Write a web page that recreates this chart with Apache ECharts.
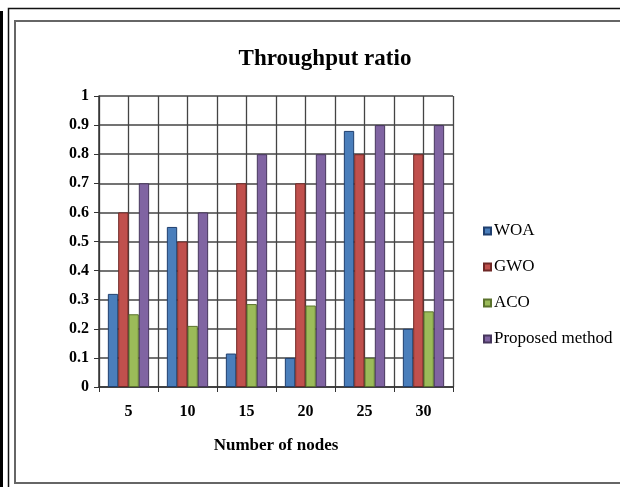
<!DOCTYPE html>
<html>
<head>
<meta charset="utf-8">
<script src="https://cdn.jsdelivr.net/npm/echarts@6/dist/echarts.min.js"></script>
<style>
html,body{margin:0;padding:0;background:#fff;}
#chart{width:620px;height:487px;}
</style>
</head>
<body>
<div id="chart"></div>
<script>
var categories = ['5', '10', '15', '20', '25', '30'];
var woa = [0.32, 0.55, 0.115, 0.10, 0.88, 0.20];
var gwo = [0.60, 0.50, 0.70, 0.70, 0.80, 0.80];
var aco = [0.25, 0.21, 0.285, 0.28, 0.10, 0.26];
var proposed = [0.70, 0.60, 0.80, 0.80, 0.90, 0.90];
var seriesNames = ['WOA', 'GWO', 'ACO', 'Proposed method'];
var halfCats = ['', '', '', '', '', '', '', '', '', '', '', ''];

var fills = ['#4A7EBB', '#C0504D', '#9BBB59', '#8064A2'];
var borders = ['#1F3F6E', '#6E2826', '#5A722C', '#46365C'];
var serif = 'Liberation Serif';

function mk(i, data) {
  return {
    name: seriesNames[i], type: 'bar', data: data, xAxisIndex: 0,
    barGap: '0%', barCategoryGap: '30%',
    itemStyle: { color: fills[i], borderColor: borders[i], borderWidth: 1 }
  };
}

var chart = echarts.init(document.getElementById('chart'));
chart.setOption({
  animation: false,
  backgroundColor: '#fff',
  title: {
    text: 'Throughput ratio', left: 320, top: 43, textAlign: 'center',
    textStyle: { fontFamily: serif, fontWeight: 'bold', fontSize: 23, color: '#000' }
  },
  graphic: [
    { type: 'rect', shape: { x: 0, y: 11, width: 3, height: 480 }, style: { fill: '#000' }, z: 100 },
    { type: 'rect', shape: { x: 8.5, y: 8.5, width: 700, height: 600 }, style: { fill: null, stroke: '#111', lineWidth: 1.5 }, z: 100 },
    { type: 'rect', shape: { x: 15, y: 21, width: 700, height: 462 }, style: { fill: null, stroke: '#666', lineWidth: 2 }, z: 100 }
  ],
  legend: {
    orient: 'vertical', left: 478, top: 217,
    itemWidth: 7, itemHeight: 7, itemGap: 18,
    icon: 'rect',
    textStyle: { fontFamily: serif, fontSize: 17, color: '#000', lineHeight: 18, padding: [0, 0, 0, -2] },
    data: seriesNames
  },
  grid: { left: 99, right: 167, top: 96, bottom: 100 },
  xAxis: [
    {
      type: 'category', data: categories, position: 'bottom',
      axisLine: { lineStyle: { color: '#333', width: 1.5 } },
      axisTick: { show: true, length: 5, lineStyle: { color: '#333' } },
      axisLabel: { color: '#000', fontFamily: serif, fontSize: 16, fontWeight: 'bold', margin: 17 },
      splitLine: { show: false },
      name: 'Number of nodes', nameLocation: 'middle', nameGap: 50,
      nameTextStyle: { fontFamily: serif, fontWeight: 'bold', fontSize: 17, color: '#000' }
    },
    {
      type: 'category', data: halfCats, position: 'bottom',
      axisLine: { show: false }, axisTick: { show: false },
      axisLabel: { show: false, interval: 0 },
      splitLine: { show: true, interval: 0, lineStyle: { color: '#444', width: 1.3 } }
    }
  ],
  yAxis: {
    type: 'value', min: 0, max: 1, interval: 0.1,
    axisLine: { show: true, lineStyle: { color: '#333', width: 1.5 } },
    axisTick: { show: true, length: 5, lineStyle: { color: '#333' } },
    axisLabel: {
      color: '#000', fontFamily: serif, fontSize: 16, fontWeight: 'bold', margin: 10,
      formatter: function (v) { return String(Math.round(v * 10) / 10); }
    },
    splitLine: { lineStyle: { color: '#444', width: 1.5 } }
  },
  series: [mk(0, woa), mk(1, gwo), mk(2, aco), mk(3, proposed)]
});
</script>
</body>
</html>
